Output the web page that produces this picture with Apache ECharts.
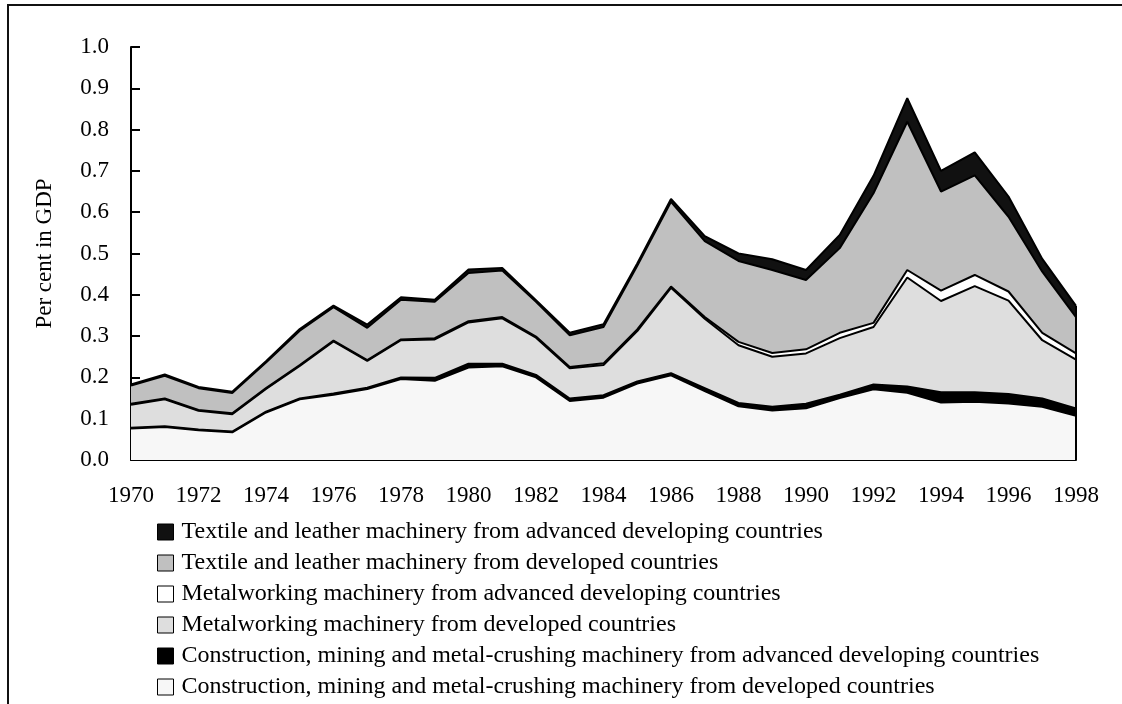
<!DOCTYPE html>
<html>
<head>
<meta charset="utf-8">
<script src="https://cdn.jsdelivr.net/npm/echarts@6/dist/echarts.min.js"></script>
<style>
  html, body { margin: 0; padding: 0; background: #fff; }
  #main { width: 1122px; height: 704px; }
</style>
</head>
<body>
<div id="main"></div>
<script>
let years = [];
for (let y = 1970; y <= 1998; y++) years.push(String(y));

// values, per cent of GDP, one layer each (stacked)
let constrDeveloped = [0.076, 0.080, 0.072, 0.067, 0.115, 0.147, 0.158, 0.172, 0.196, 0.192,
    0.224, 0.227, 0.200, 0.143, 0.151, 0.185, 0.205, 0.167, 0.130, 0.120,
    0.125, 0.150, 0.171, 0.163, 0.139, 0.141, 0.137, 0.129, 0.107];
let constrAdvDev = [0.002, 0.002, 0.002, 0.002, 0.002, 0.002, 0.003, 0.003, 0.004, 0.007,
    0.009, 0.006, 0.006, 0.006, 0.006, 0.005, 0.005, 0.007, 0.008, 0.009,
    0.011, 0.008, 0.012, 0.015, 0.025, 0.023, 0.023, 0.020, 0.018];
let metalDeveloped = [0.056, 0.065, 0.045, 0.042, 0.055, 0.079, 0.126, 0.065, 0.090, 0.093,
    0.100, 0.110, 0.090, 0.073, 0.073, 0.122, 0.207, 0.168, 0.140, 0.121,
    0.122, 0.137, 0.139, 0.264, 0.221, 0.257, 0.226, 0.141, 0.118];
let metalAdvDev = [0.002, 0.002, 0.002, 0.002, 0.002, 0.002, 0.002, 0.002, 0.002, 0.003,
    0.003, 0.003, 0.003, 0.003, 0.004, 0.004, 0.003, 0.004, 0.008, 0.009,
    0.010, 0.013, 0.010, 0.018, 0.025, 0.027, 0.022, 0.018, 0.015];
let textileDeveloped = [0.044, 0.055, 0.053, 0.049, 0.062, 0.083, 0.081, 0.078, 0.096, 0.088,
    0.117, 0.113, 0.084, 0.077, 0.088, 0.154, 0.205, 0.184, 0.196, 0.201,
    0.168, 0.205, 0.314, 0.359, 0.240, 0.241, 0.181, 0.148, 0.088];
let textileAdvDev = [0.003, 0.003, 0.003, 0.003, 0.003, 0.004, 0.004, 0.008, 0.006, 0.005,
    0.008, 0.006, 0.004, 0.006, 0.007, 0.006, 0.007, 0.012, 0.018, 0.026,
    0.024, 0.032, 0.042, 0.057, 0.050, 0.056, 0.049, 0.031, 0.027];

let seriesNames = [
    'Construction, mining and metal-crushing machinery from developed countries',
    'Construction, mining and metal-crushing machinery from advanced developing countries',
    'Metalworking machinery from developed countries',
    'Metalworking machinery from advanced developing countries',
    'Textile and leather machinery from developed countries',
    'Textile and leather machinery from advanced developing countries'
];
let seriesData = [constrDeveloped, constrAdvDev, metalDeveloped, metalAdvDev, textileDeveloped, textileAdvDev];
let fillColors = ['#f7f7f7', '#000000', '#dedede', '#ffffff', '#c0c0c0', '#111111'];

let font = 'Liberation Serif';
let myChart = echarts.init(document.getElementById('main'));

let lastIdx = years.length - 1;
let lastTotal = seriesData.reduce((s, arr) => s + arr[lastIdx], 0);

let series = seriesData.map((arr, i) => {
    let s = {
        name: seriesNames[i],
        type: 'line',
        stack: 'total',
        data: arr,
        symbol: 'none',
        lineStyle: { color: '#000', width: 2 },
        areaStyle: { color: fillColors[i], opacity: 1 },
        itemStyle: { color: fillColors[i], borderColor: '#000', borderWidth: 1 },
        emphasis: { disabled: true }
    };
    if (i == seriesData.length - 1) {
        // right edge of the stacked block
        s.markLine = {
            silent: true,
            symbol: 'none',
            label: { show: false },
            lineStyle: { color: '#000', width: 2, type: 'solid' },
            data: [[{ coord: [years[lastIdx], 0] }, { coord: [years[lastIdx], lastTotal] }]]
        };
    }
    return s;
});

let option = {
    animation: false,
    textStyle: { fontFamily: font },
    graphic: [{
        type: 'rect',
        shape: { x: 8, y: 5, width: 1400, height: 1000 },
        style: { fill: 'none', stroke: '#111', lineWidth: 2 },
        silent: true
    }],
    grid: { left: 131, top: 47, right: 46, bottom: 244 },
    legend: {
        orient: 'vertical',
        left: 157,
        top: 520,
        bottom: 0,
        padding: 0,
        itemWidth: 16,
        itemHeight: 16,
        itemGap: 7,
        icon: 'rect',
        data: seriesNames.slice().reverse(),
        itemStyle: { borderColor: '#000', borderWidth: 1 },
        textStyle: { fontFamily: font, fontSize: 24, color: '#000', padding: [0, 0, 0, 3] },
        selectedMode: false
    },
    xAxis: {
        type: 'category',
        data: years,
        boundaryGap: false,
        axisLine: { lineStyle: { color: '#000', width: 2 } },
        axisTick: { inside: true, length: 8, interval: 0, lineStyle: { color: '#000', width: 2 } },
        axisLabel: { interval: 1, margin: 24, fontFamily: font, fontSize: 23, color: '#000' },
        splitLine: { show: false }
    },
    yAxis: {
        type: 'value',
        min: 0,
        max: 1,
        interval: 0.1,
        name: 'Per cent in GDP',
        nameLocation: 'middle',
        nameGap: 75,
        nameTextStyle: { fontFamily: font, fontSize: 23, color: '#000' },
        axisLine: { show: true, lineStyle: { color: '#000', width: 2 } },
        axisTick: { show: true, inside: true, length: 9, lineStyle: { color: '#000', width: 2 } },
        axisLabel: { margin: 22, fontFamily: font, fontSize: 23, color: '#000',
            formatter: v => v.toFixed(1) },
        splitLine: { show: false }
    },
    series: series
};
myChart.setOption(option);
</script>
</body>
</html>
